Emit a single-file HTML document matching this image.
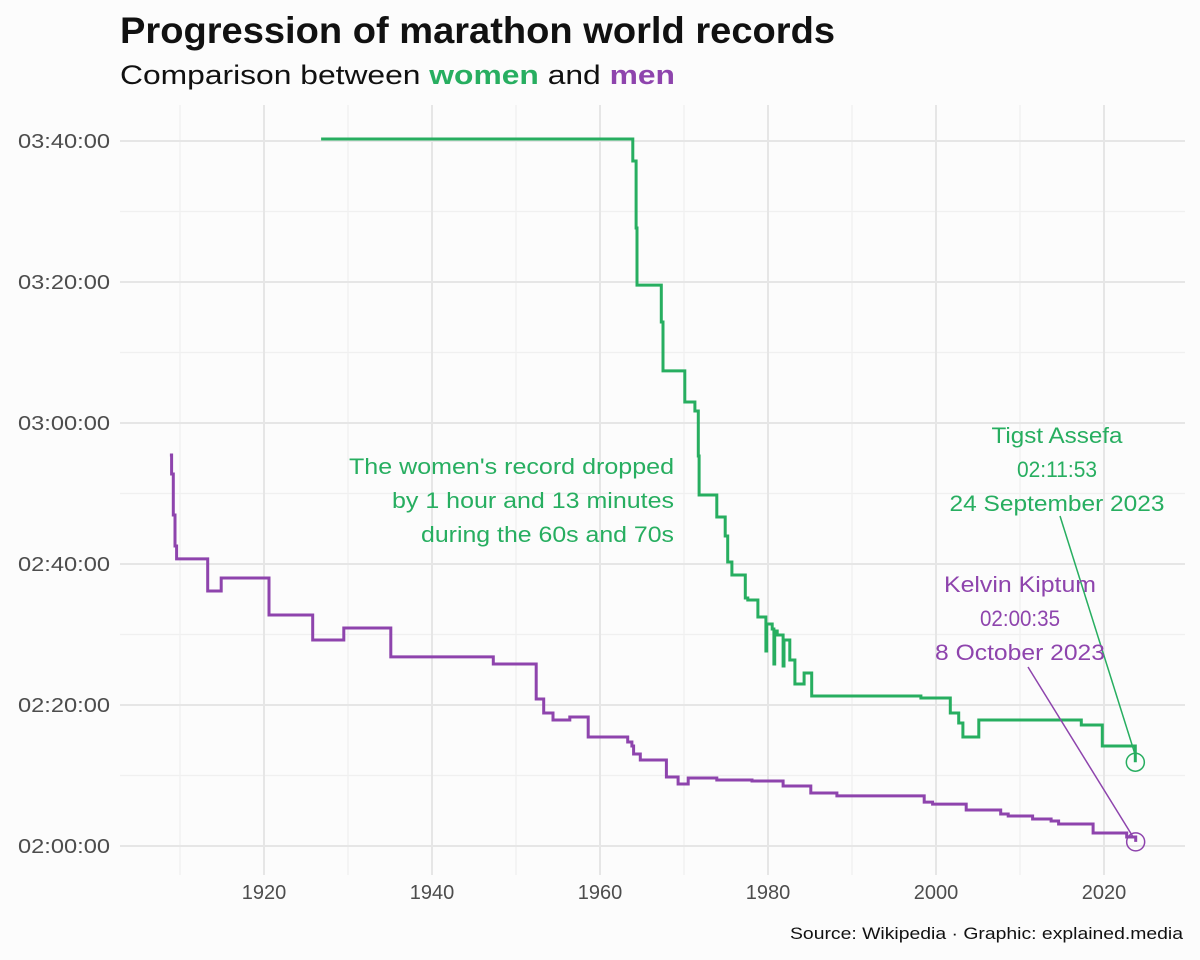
<!DOCTYPE html>
<html><head><meta charset="utf-8">
<style>
html,body{margin:0;padding:0;background:#fcfcfc;}
svg{display:block;font-family:"Liberation Sans",sans-serif;}
</style></head>
<body>
<svg id="chart" width="1200" height="960" viewBox="0 0 1200 960" xmlns="http://www.w3.org/2000/svg">
<rect width="1200" height="960" fill="#fcfcfc"/>
<text x="120" y="43" font-size="37" font-weight="bold" fill="#111" textLength="715" lengthAdjust="spacingAndGlyphs">Progression of marathon world records</text>
<text x="120" y="84" font-size="27" fill="#111" textLength="555" lengthAdjust="spacingAndGlyphs">Comparison between <tspan font-weight="bold" fill="#27ae60">women</tspan> and <tspan font-weight="bold" fill="#8e44ad">men</tspan></text>
<g id="grid"></g>
<g id="axes"></g>
<g id="series"></g>
<g id="annot"></g>
<text x="1183" y="939" font-size="17" fill="#111" text-anchor="end" textLength="393" lengthAdjust="spacingAndGlyphs">Source: Wikipedia · Graphic: explained.media</text>
</svg>
<script>
// ---- data ----
const menYears = [1908.8,1909.0,1909.2,1909.4,1909.6,1913.3,1914.9,1920.6,1925.8,1929.5,1935.1,1947.3,1952.4,1953.3,1954.4,1956.4,1958.6,1963.3,1963.8,1964.0,1964.8,1967.9,1969.3,1970.5,1973.9,1978.1,1981.8,1985.1,1988.2,1998.6,1999.6,2003.6,2007.7,2008.6,2011.5,2013.7,2014.6,2018.7,2022.7,2023.77];
const menTimes = [10528,10366,10017,9753,9643,9370,9481,9166,8953,9055,8809,8749,8451,8332,8272,8298,8128,8085,8051,7983,7932,7787,7728,7779,7762,7753,7711,7651,7626,7574,7557,7506,7472,7455,7430,7413,7387,7311,7277,7235];
const womenYears = [1926.8,1963.9,1964.3,1964.4,1967.3,1967.5,1970.1,1971.3,1971.7,1971.8,1973.9,1974.9,1975.2,1975.7,1977.3,1977.6,1978.8,1979.75,1979.85,1980.5,1980.7,1980.8,1981.1,1981.8,1981.9,1982.6,1983.2,1984.3,1985.2,1998.2,2001.7,2002.7,2003.2,2005.1,2017.3,2019.8,2023.73];
const womenTimes = [13217,13030,12460,11974,11660,11243,10979,10902,10519,10187,10000,9838,9617,9506,9311,9294,9149,8860,9089,9047,8749,9030,8996,8732,8953,8783,8579,8672,8477,8460,8332,8247,8128,8272,8230,8051,7913];
const xTicks = [1920,1940,1960,1980,2000,2020];
const yTicks = [7200,8400,9600,10800,12000,13200];
const yTickLabels = ["02:00:00","02:20:00","02:40:00","03:00:00","03:20:00","03:40:00"];

const NS="http://www.w3.org/2000/svg";
const xS = y => 264 + (y-1920)*8.4;
const yS = s => 846 - (s-7200)*141/1200;
function mk(tag, attrs, parent){const e=document.createElementNS(NS,tag);for(const k in attrs)e.setAttribute(k,attrs[k]);parent.appendChild(e);return e;}
const grid=document.getElementById('grid'), axes=document.getElementById('axes'), series=document.getElementById('series'), annot=document.getElementById('annot');
for(let yr=1910; yr<=2020; yr+=20){const l=mk('line',{x1:xS(yr),x2:xS(yr),y1:105,y2:875,stroke:'#f0f0f0','stroke-width':1.2},grid);

}
for(let s=7800; s<=13200; s+=1200){const l=mk('line',{x1:120,x2:1185,y1:yS(s),y2:yS(s),stroke:'#f0f0f0','stroke-width':1.2},grid);

}
xTicks.forEach(t=>{const l=mk('line',{x1:xS(t),x2:xS(t),y1:105,y2:875,stroke:'#e6e6e6','stroke-width':2},grid);


const tx=mk('text',{x:xS(t),y:899,'font-size':20,fill:'#4d4d4d','text-anchor':'middle'},axes);tx.textContent=t;

});
yTicks.forEach((t,i)=>{const l=mk('line',{x1:120,x2:1185,y1:yS(t),y2:yS(t),stroke:'#e6e6e6','stroke-width':2},grid);


const tx=mk('text',{x:18,y:yS(t)+7,'font-size':20,fill:'#4d4d4d',textLength:92,lengthAdjust:'spacingAndGlyphs'},axes);tx.textContent=yTickLabels[i];

});
function stepPath(xs,ts){let d='M'+xS(xs[0]).toFixed(1)+','+yS(ts[0]).toFixed(1);for(let i=1;i<xs.length;i++){d+=' H'+xS(xs[i]).toFixed(1)+' V'+yS(ts[i]).toFixed(1);}return d;}
const wl=mk('path',{d:stepPath(womenYears,womenTimes),fill:'none',stroke:'#27ae60','stroke-width':3},series);


const ml=mk('path',{d:stepPath(menYears,menTimes),fill:'none',stroke:'#8e44ad','stroke-width':3},series);


const wx=xS(womenYears[womenYears.length-1]), wy=yS(womenTimes[womenTimes.length-1]);
const mx=xS(menYears[menYears.length-1]), my=yS(menTimes[menTimes.length-1]);
const wc=mk('circle',{cx:wx,cy:wy,r:9,fill:'none',stroke:'#27ae60','stroke-width':1.5},annot);


const mc=mk('circle',{cx:mx,cy:my,r:9,fill:'none',stroke:'#8e44ad','stroke-width':1.5},annot);


const wa=mk('line',{x1:1060,y1:516,x2:wx,y2:wy-7,stroke:'#27ae60','stroke-width':1.5},annot);


const ma=mk('line',{x1:1028,y1:667,x2:mx-2,y2:my-4,stroke:'#8e44ad','stroke-width':1.5},annot);


function lines(arr,lens,x,y0,dy,anchor,color,name){arr.forEach((s,i)=>{const t=mk('text',{x:x,y:y0+i*dy,'font-size':22,fill:color,'text-anchor':anchor,textLength:lens[i],lengthAdjust:'spacingAndGlyphs'},annot);t.textContent=s;

});}
lines(["Tigst Assefa","02:11:53","24 September 2023"],[131,80,215],1057,443,34,'middle','#27ae60','women-record-annotation');
lines(["Kelvin Kiptum","02:00:35","8 October 2023"],[152,80,170],1020,592,34,'middle','#8e44ad','men-record-annotation');
lines(["The women's record dropped","by 1 hour and 13 minutes","during the 60s and 70s"],[325,282,253],674,474,34,'end','#27ae60','women-drop-annotation');
</script>
</body></html>
